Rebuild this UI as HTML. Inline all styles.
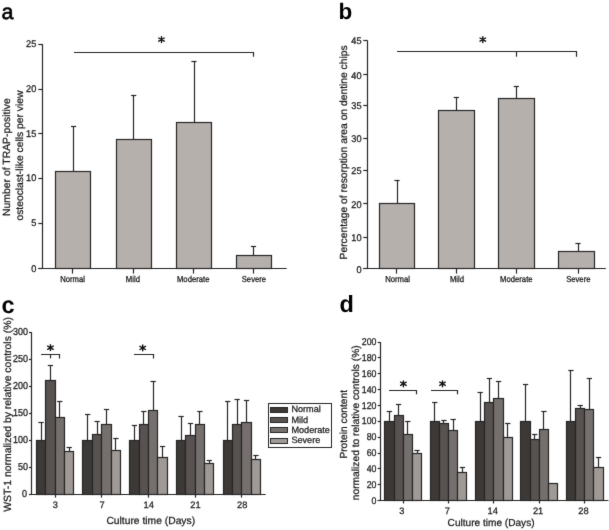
<!DOCTYPE html>
<html><head><meta charset="utf-8"><style>
html,body{margin:0;padding:0;background:#fff;}
svg{display:block;font-family:"Liberation Sans", sans-serif;text-rendering:geometricPrecision;}
</style></head><body>
<svg width="609" height="530" viewBox="0 0 609 530">
<defs><filter id="bl" x="0" y="0" width="100%" height="100%" filterUnits="userSpaceOnUse" color-interpolation-filters="sRGB"><feConvolveMatrix order="3" kernelMatrix="0.015 0.06 0.015 0.06 0.7 0.06 0.015 0.06 0.015" divisor="1" edgeMode="none"/></filter></defs>
<rect width="609" height="530" fill="#ffffff"/>
<g filter="url(#bl)">
<text transform="translate(1.50,18.70)" font-size="21.5" text-anchor="start" font-weight="normal" fill="#000" stroke="#000" stroke-width="0.6" >a</text>
<text transform="translate(338.50,18.70)" font-size="22.5" text-anchor="start" font-weight="bold" fill="#000" >b</text>
<text transform="translate(1.50,312.60)" font-size="23.5" text-anchor="start" font-weight="bold" fill="#000" >c</text>
<text transform="translate(339.50,312.20)" font-size="23.5" text-anchor="start" font-weight="bold" fill="#000" >d</text>
<line x1="42.50" y1="44.10" x2="42.50" y2="268.80" stroke="#262626" stroke-width="1.2"/>
<line x1="38.30" y1="268.50" x2="286.70" y2="268.50" stroke="#262626" stroke-width="1.2"/>
<line x1="38.30" y1="44.50" x2="42.70" y2="44.50" stroke="#262626" stroke-width="1.2"/>
<text transform="translate(36.30,47.00) scale(1,1.05)" font-size="9.2" text-anchor="end" font-weight="normal" fill="#1a1a1a" stroke="#1a1a1a" stroke-width="0.25" >25</text>
<line x1="38.30" y1="89.50" x2="42.70" y2="89.50" stroke="#262626" stroke-width="1.2"/>
<text transform="translate(36.30,92.30) scale(1,1.05)" font-size="9.2" text-anchor="end" font-weight="normal" fill="#1a1a1a" stroke="#1a1a1a" stroke-width="0.25" >20</text>
<line x1="38.30" y1="133.50" x2="42.70" y2="133.50" stroke="#262626" stroke-width="1.2"/>
<text transform="translate(36.30,136.50) scale(1,1.05)" font-size="9.2" text-anchor="end" font-weight="normal" fill="#1a1a1a" stroke="#1a1a1a" stroke-width="0.25" >15</text>
<line x1="38.30" y1="178.50" x2="42.70" y2="178.50" stroke="#262626" stroke-width="1.2"/>
<text transform="translate(36.30,180.90) scale(1,1.05)" font-size="9.2" text-anchor="end" font-weight="normal" fill="#1a1a1a" stroke="#1a1a1a" stroke-width="0.25" >10</text>
<line x1="38.30" y1="223.50" x2="42.70" y2="223.50" stroke="#262626" stroke-width="1.2"/>
<text transform="translate(36.30,226.30) scale(1,1.05)" font-size="9.2" text-anchor="end" font-weight="normal" fill="#1a1a1a" stroke="#1a1a1a" stroke-width="0.25" >5</text>
<line x1="38.30" y1="268.50" x2="42.70" y2="268.50" stroke="#262626" stroke-width="1.2"/>
<text transform="translate(36.30,271.70) scale(1,1.05)" font-size="9.2" text-anchor="end" font-weight="normal" fill="#1a1a1a" stroke="#1a1a1a" stroke-width="0.25" >0</text>
<line x1="73.50" y1="171.20" x2="73.50" y2="126.70" stroke="#262626" stroke-width="1.2"/>
<line x1="71.00" y1="126.50" x2="76.20" y2="126.50" stroke="#262626" stroke-width="1.2"/>
<rect x="55.50" y="171.50" width="35.00" height="97.00" fill="#b6b0ad" stroke="#262626" stroke-width="1.2"/>
<line x1="72.50" y1="268.80" x2="72.50" y2="273.60" stroke="#262626" stroke-width="1.2"/>
<text transform="translate(72.60,282.00) scale(1,1.12)" font-size="7.7" text-anchor="middle" font-weight="normal" fill="#1a1a1a" stroke="#1a1a1a" stroke-width="0.25" >Normal</text>
<line x1="133.50" y1="139.30" x2="133.50" y2="95.00" stroke="#262626" stroke-width="1.2"/>
<line x1="131.10" y1="95.50" x2="136.30" y2="95.50" stroke="#262626" stroke-width="1.2"/>
<rect x="116.50" y="139.50" width="35.00" height="129.00" fill="#b6b0ad" stroke="#262626" stroke-width="1.2"/>
<line x1="133.50" y1="268.80" x2="133.50" y2="273.60" stroke="#262626" stroke-width="1.2"/>
<text transform="translate(132.90,282.00) scale(1,1.12)" font-size="7.7" text-anchor="middle" font-weight="normal" fill="#1a1a1a" stroke="#1a1a1a" stroke-width="0.25" >Mild</text>
<line x1="194.50" y1="122.30" x2="194.50" y2="61.00" stroke="#262626" stroke-width="1.2"/>
<line x1="191.40" y1="61.50" x2="196.60" y2="61.50" stroke="#262626" stroke-width="1.2"/>
<rect x="176.50" y="122.50" width="35.00" height="146.00" fill="#b6b0ad" stroke="#262626" stroke-width="1.2"/>
<line x1="193.50" y1="268.80" x2="193.50" y2="273.60" stroke="#262626" stroke-width="1.2"/>
<text transform="translate(193.20,282.00) scale(1,1.12)" font-size="7.7" text-anchor="middle" font-weight="normal" fill="#1a1a1a" stroke="#1a1a1a" stroke-width="0.25" >Moderate</text>
<line x1="253.50" y1="255.90" x2="253.50" y2="246.40" stroke="#262626" stroke-width="1.2"/>
<line x1="250.90" y1="246.50" x2="256.10" y2="246.50" stroke="#262626" stroke-width="1.2"/>
<rect x="236.50" y="255.50" width="35.00" height="13.00" fill="#b6b0ad" stroke="#262626" stroke-width="1.2"/>
<line x1="253.50" y1="268.80" x2="253.50" y2="273.60" stroke="#262626" stroke-width="1.2"/>
<text transform="translate(253.90,282.00) scale(1,1.12)" font-size="7.7" text-anchor="middle" font-weight="normal" fill="#1a1a1a" stroke="#1a1a1a" stroke-width="0.25" >Severe</text>
<path d="M74.00 52.50 H253.50 V56.70" fill="none" stroke="#262626" stroke-width="1.2"/>
<path d="M161.50 36.72 V42.48 M158.73 38.00 L164.27 41.20 M158.73 41.20 L164.27 38.00" fill="none" stroke="#111" stroke-width="1.4" stroke-linecap="round"/>
<text transform="translate(10.40,157.10) rotate(-90)" font-size="10.4" text-anchor="middle" font-weight="normal" fill="#1a1a1a" stroke="#1a1a1a" stroke-width="0.25" >Number of TRAP-positive</text>
<text transform="translate(22.60,155.60) rotate(-90)" font-size="10.3" text-anchor="middle" font-weight="normal" fill="#1a1a1a" stroke="#1a1a1a" stroke-width="0.25" >osteoclast-like cells per view</text>
<line x1="367.50" y1="40.50" x2="367.50" y2="268.80" stroke="#262626" stroke-width="1.2"/>
<line x1="363.30" y1="268.50" x2="605.80" y2="268.50" stroke="#262626" stroke-width="1.2"/>
<line x1="363.30" y1="40.50" x2="367.60" y2="40.50" stroke="#262626" stroke-width="1.2"/>
<text transform="translate(361.60,44.40) scale(1,1.05)" font-size="9.2" text-anchor="end" font-weight="normal" fill="#1a1a1a" stroke="#1a1a1a" stroke-width="0.25" >45</text>
<line x1="363.30" y1="74.50" x2="367.60" y2="74.50" stroke="#262626" stroke-width="1.2"/>
<text transform="translate(361.60,78.50) scale(1,1.05)" font-size="9.2" text-anchor="end" font-weight="normal" fill="#1a1a1a" stroke="#1a1a1a" stroke-width="0.25" >40</text>
<line x1="363.30" y1="105.50" x2="367.60" y2="105.50" stroke="#262626" stroke-width="1.2"/>
<text transform="translate(361.60,109.30) scale(1,1.05)" font-size="9.2" text-anchor="end" font-weight="normal" fill="#1a1a1a" stroke="#1a1a1a" stroke-width="0.25" >35</text>
<line x1="363.30" y1="138.50" x2="367.60" y2="138.50" stroke="#262626" stroke-width="1.2"/>
<text transform="translate(361.60,142.30) scale(1,1.05)" font-size="9.2" text-anchor="end" font-weight="normal" fill="#1a1a1a" stroke="#1a1a1a" stroke-width="0.25" >30</text>
<line x1="363.30" y1="170.50" x2="367.60" y2="170.50" stroke="#262626" stroke-width="1.2"/>
<text transform="translate(361.60,174.30) scale(1,1.05)" font-size="9.2" text-anchor="end" font-weight="normal" fill="#1a1a1a" stroke="#1a1a1a" stroke-width="0.25" >25</text>
<line x1="363.30" y1="203.50" x2="367.60" y2="203.50" stroke="#262626" stroke-width="1.2"/>
<text transform="translate(361.60,207.60) scale(1,1.05)" font-size="9.2" text-anchor="end" font-weight="normal" fill="#1a1a1a" stroke="#1a1a1a" stroke-width="0.25" >20</text>
<line x1="363.30" y1="237.50" x2="367.60" y2="237.50" stroke="#262626" stroke-width="1.2"/>
<text transform="translate(361.60,241.00) scale(1,1.05)" font-size="9.2" text-anchor="end" font-weight="normal" fill="#1a1a1a" stroke="#1a1a1a" stroke-width="0.25" >10</text>
<line x1="363.30" y1="268.50" x2="367.60" y2="268.50" stroke="#262626" stroke-width="1.2"/>
<text transform="translate(361.60,272.70) scale(1,1.05)" font-size="9.2" text-anchor="end" font-weight="normal" fill="#1a1a1a" stroke="#1a1a1a" stroke-width="0.25" >0</text>
<line x1="397.50" y1="203.30" x2="397.50" y2="180.70" stroke="#262626" stroke-width="1.2"/>
<line x1="394.40" y1="180.50" x2="399.60" y2="180.50" stroke="#262626" stroke-width="1.2"/>
<rect x="379.50" y="203.50" width="35.00" height="65.00" fill="#b6b0ad" stroke="#262626" stroke-width="1.2"/>
<line x1="396.50" y1="268.80" x2="396.50" y2="273.60" stroke="#262626" stroke-width="1.2"/>
<text transform="translate(397.60,282.00) scale(1,1.12)" font-size="7.7" text-anchor="middle" font-weight="normal" fill="#1a1a1a" stroke="#1a1a1a" stroke-width="0.25" >Normal</text>
<line x1="456.50" y1="110.30" x2="456.50" y2="97.70" stroke="#262626" stroke-width="1.2"/>
<line x1="453.70" y1="97.50" x2="458.90" y2="97.50" stroke="#262626" stroke-width="1.2"/>
<rect x="438.50" y="110.50" width="36.00" height="158.00" fill="#b6b0ad" stroke="#262626" stroke-width="1.2"/>
<line x1="456.50" y1="268.80" x2="456.50" y2="273.60" stroke="#262626" stroke-width="1.2"/>
<text transform="translate(457.00,282.00) scale(1,1.12)" font-size="7.7" text-anchor="middle" font-weight="normal" fill="#1a1a1a" stroke="#1a1a1a" stroke-width="0.25" >Mild</text>
<line x1="516.50" y1="98.70" x2="516.50" y2="86.00" stroke="#262626" stroke-width="1.2"/>
<line x1="513.70" y1="86.50" x2="518.90" y2="86.50" stroke="#262626" stroke-width="1.2"/>
<rect x="498.50" y="98.50" width="36.00" height="170.00" fill="#b6b0ad" stroke="#262626" stroke-width="1.2"/>
<line x1="516.50" y1="268.80" x2="516.50" y2="273.60" stroke="#262626" stroke-width="1.2"/>
<text transform="translate(516.30,282.00) scale(1,1.12)" font-size="7.7" text-anchor="middle" font-weight="normal" fill="#1a1a1a" stroke="#1a1a1a" stroke-width="0.25" >Moderate</text>
<line x1="578.50" y1="251.50" x2="578.50" y2="243.60" stroke="#262626" stroke-width="1.2"/>
<line x1="575.40" y1="243.50" x2="580.60" y2="243.50" stroke="#262626" stroke-width="1.2"/>
<rect x="558.50" y="251.50" width="36.00" height="17.00" fill="#b6b0ad" stroke="#262626" stroke-width="1.2"/>
<line x1="578.50" y1="268.80" x2="578.50" y2="273.60" stroke="#262626" stroke-width="1.2"/>
<text transform="translate(578.30,282.00) scale(1,1.12)" font-size="7.7" text-anchor="middle" font-weight="normal" fill="#1a1a1a" stroke="#1a1a1a" stroke-width="0.25" >Severe</text>
<path d="M397.00 51.50 H576.50 V56.70" fill="none" stroke="#262626" stroke-width="1.2"/>
<line x1="516.50" y1="51.50" x2="516.50" y2="56.70" stroke="#262626" stroke-width="1.2"/>
<path d="M482.80 36.72 V42.48 M480.03 38.00 L485.57 41.20 M480.03 41.20 L485.57 38.00" fill="none" stroke="#111" stroke-width="1.4" stroke-linecap="round"/>
<text transform="translate(346.60,152.40) rotate(-90)" font-size="10.3" text-anchor="middle" font-weight="normal" fill="#1a1a1a" stroke="#1a1a1a" stroke-width="0.25" >Percentage of resorption area on dentine chips</text>
<line x1="31.50" y1="332.20" x2="31.50" y2="494.40" stroke="#262626" stroke-width="1.2"/>
<line x1="29.00" y1="494.50" x2="265.70" y2="494.50" stroke="#262626" stroke-width="1.2"/>
<line x1="29.00" y1="494.50" x2="31.60" y2="494.50" stroke="#262626" stroke-width="1.2"/>
<text transform="translate(26.90,497.40) scale(1,1.12)" font-size="9.0" text-anchor="end" font-weight="normal" fill="#1a1a1a" stroke="#1a1a1a" stroke-width="0.25" >0</text>
<line x1="29.00" y1="467.50" x2="31.60" y2="467.50" stroke="#262626" stroke-width="1.2"/>
<text transform="translate(28.10,470.37) scale(1,1.12)" font-size="9.0" text-anchor="end" font-weight="normal" fill="#1a1a1a" stroke="#1a1a1a" stroke-width="0.25" >50</text>
<line x1="29.00" y1="440.50" x2="31.60" y2="440.50" stroke="#262626" stroke-width="1.2"/>
<text transform="translate(28.10,443.33) scale(1,1.12)" font-size="9.0" text-anchor="end" font-weight="normal" fill="#1a1a1a" stroke="#1a1a1a" stroke-width="0.25" >100</text>
<line x1="29.00" y1="413.50" x2="31.60" y2="413.50" stroke="#262626" stroke-width="1.2"/>
<text transform="translate(28.10,416.29) scale(1,1.12)" font-size="9.0" text-anchor="end" font-weight="normal" fill="#1a1a1a" stroke="#1a1a1a" stroke-width="0.25" >150</text>
<line x1="29.00" y1="386.50" x2="31.60" y2="386.50" stroke="#262626" stroke-width="1.2"/>
<text transform="translate(28.10,389.26) scale(1,1.12)" font-size="9.0" text-anchor="end" font-weight="normal" fill="#1a1a1a" stroke="#1a1a1a" stroke-width="0.25" >200</text>
<line x1="29.00" y1="359.50" x2="31.60" y2="359.50" stroke="#262626" stroke-width="1.2"/>
<text transform="translate(28.10,362.23) scale(1,1.12)" font-size="9.0" text-anchor="end" font-weight="normal" fill="#1a1a1a" stroke="#1a1a1a" stroke-width="0.25" >250</text>
<line x1="29.00" y1="332.50" x2="31.60" y2="332.50" stroke="#262626" stroke-width="1.2"/>
<text transform="translate(28.10,335.19) scale(1,1.12)" font-size="9.0" text-anchor="end" font-weight="normal" fill="#1a1a1a" stroke="#1a1a1a" stroke-width="0.25" >300</text>
<line x1="41.50" y1="440.30" x2="41.50" y2="422.70" stroke="#262626" stroke-width="1.2"/>
<line x1="38.35" y1="422.50" x2="43.65" y2="422.50" stroke="#262626" stroke-width="1.2"/>
<line x1="50.50" y1="380.50" x2="50.50" y2="365.20" stroke="#262626" stroke-width="1.2"/>
<line x1="47.75" y1="365.50" x2="53.05" y2="365.50" stroke="#262626" stroke-width="1.2"/>
<line x1="59.50" y1="417.30" x2="59.50" y2="401.90" stroke="#262626" stroke-width="1.2"/>
<line x1="57.15" y1="401.50" x2="62.45" y2="401.50" stroke="#262626" stroke-width="1.2"/>
<line x1="69.50" y1="451.40" x2="69.50" y2="447.60" stroke="#262626" stroke-width="1.2"/>
<line x1="66.55" y1="447.50" x2="71.85" y2="447.50" stroke="#262626" stroke-width="1.2"/>
<rect x="36.50" y="440.50" width="9.00" height="54.00" fill="#3c3937" stroke="#262626" stroke-width="1.2"/>
<rect x="45.50" y="380.50" width="10.00" height="114.00" fill="#585351" stroke="#262626" stroke-width="1.2"/>
<rect x="55.50" y="417.50" width="9.00" height="77.00" fill="#75706e" stroke="#262626" stroke-width="1.2"/>
<rect x="64.50" y="451.50" width="9.00" height="43.00" fill="#a09a96" stroke="#262626" stroke-width="1.2"/>
<line x1="55.50" y1="494.40" x2="55.50" y2="497.60" stroke="#262626" stroke-width="1.2"/>
<text transform="translate(55.40,508.00)" font-size="9.3" text-anchor="middle" font-weight="normal" fill="#1a1a1a" stroke="#1a1a1a" stroke-width="0.25" >3</text>
<line x1="87.50" y1="440.30" x2="87.50" y2="414.70" stroke="#262626" stroke-width="1.2"/>
<line x1="85.04" y1="414.50" x2="90.34" y2="414.50" stroke="#262626" stroke-width="1.2"/>
<line x1="97.50" y1="434.20" x2="97.50" y2="421.20" stroke="#262626" stroke-width="1.2"/>
<line x1="94.44" y1="421.50" x2="99.74" y2="421.50" stroke="#262626" stroke-width="1.2"/>
<line x1="106.50" y1="424.00" x2="106.50" y2="409.60" stroke="#262626" stroke-width="1.2"/>
<line x1="103.84" y1="409.50" x2="109.14" y2="409.50" stroke="#262626" stroke-width="1.2"/>
<line x1="115.50" y1="450.00" x2="115.50" y2="438.80" stroke="#262626" stroke-width="1.2"/>
<line x1="113.24" y1="438.50" x2="118.54" y2="438.50" stroke="#262626" stroke-width="1.2"/>
<rect x="82.50" y="440.50" width="10.00" height="54.00" fill="#3c3937" stroke="#262626" stroke-width="1.2"/>
<rect x="92.50" y="434.50" width="9.00" height="60.00" fill="#585351" stroke="#262626" stroke-width="1.2"/>
<rect x="101.50" y="424.50" width="10.00" height="70.00" fill="#75706e" stroke="#262626" stroke-width="1.2"/>
<rect x="111.50" y="450.50" width="9.00" height="44.00" fill="#a09a96" stroke="#262626" stroke-width="1.2"/>
<line x1="101.50" y1="494.40" x2="101.50" y2="497.60" stroke="#262626" stroke-width="1.2"/>
<text transform="translate(102.09,508.00)" font-size="9.3" text-anchor="middle" font-weight="normal" fill="#1a1a1a" stroke="#1a1a1a" stroke-width="0.25" >7</text>
<line x1="134.50" y1="440.30" x2="134.50" y2="425.70" stroke="#262626" stroke-width="1.2"/>
<line x1="131.73" y1="425.50" x2="137.03" y2="425.50" stroke="#262626" stroke-width="1.2"/>
<line x1="143.50" y1="424.30" x2="143.50" y2="411.30" stroke="#262626" stroke-width="1.2"/>
<line x1="141.13" y1="411.50" x2="146.43" y2="411.50" stroke="#262626" stroke-width="1.2"/>
<line x1="153.50" y1="410.70" x2="153.50" y2="381.50" stroke="#262626" stroke-width="1.2"/>
<line x1="150.53" y1="381.50" x2="155.83" y2="381.50" stroke="#262626" stroke-width="1.2"/>
<line x1="162.50" y1="457.20" x2="162.50" y2="446.10" stroke="#262626" stroke-width="1.2"/>
<line x1="159.93" y1="446.50" x2="165.23" y2="446.50" stroke="#262626" stroke-width="1.2"/>
<rect x="129.50" y="440.50" width="10.00" height="54.00" fill="#3c3937" stroke="#262626" stroke-width="1.2"/>
<rect x="139.50" y="424.50" width="9.00" height="70.00" fill="#585351" stroke="#262626" stroke-width="1.2"/>
<rect x="148.50" y="410.50" width="9.00" height="84.00" fill="#75706e" stroke="#262626" stroke-width="1.2"/>
<rect x="157.50" y="457.50" width="10.00" height="37.00" fill="#a09a96" stroke="#262626" stroke-width="1.2"/>
<line x1="148.50" y1="494.40" x2="148.50" y2="497.60" stroke="#262626" stroke-width="1.2"/>
<text transform="translate(148.78,508.00)" font-size="9.3" text-anchor="middle" font-weight="normal" fill="#1a1a1a" stroke="#1a1a1a" stroke-width="0.25" >14</text>
<line x1="181.50" y1="440.30" x2="181.50" y2="416.10" stroke="#262626" stroke-width="1.2"/>
<line x1="178.42" y1="416.50" x2="183.72" y2="416.50" stroke="#262626" stroke-width="1.2"/>
<line x1="190.50" y1="435.10" x2="190.50" y2="423.20" stroke="#262626" stroke-width="1.2"/>
<line x1="187.82" y1="423.50" x2="193.12" y2="423.50" stroke="#262626" stroke-width="1.2"/>
<line x1="199.50" y1="424.30" x2="199.50" y2="411.00" stroke="#262626" stroke-width="1.2"/>
<line x1="197.22" y1="411.50" x2="202.52" y2="411.50" stroke="#262626" stroke-width="1.2"/>
<line x1="209.50" y1="463.10" x2="209.50" y2="460.80" stroke="#262626" stroke-width="1.2"/>
<line x1="206.62" y1="460.50" x2="211.92" y2="460.50" stroke="#262626" stroke-width="1.2"/>
<rect x="176.50" y="440.50" width="9.00" height="54.00" fill="#3c3937" stroke="#262626" stroke-width="1.2"/>
<rect x="185.50" y="435.50" width="10.00" height="59.00" fill="#585351" stroke="#262626" stroke-width="1.2"/>
<rect x="195.50" y="424.50" width="9.00" height="70.00" fill="#75706e" stroke="#262626" stroke-width="1.2"/>
<rect x="204.50" y="463.50" width="9.00" height="31.00" fill="#a09a96" stroke="#262626" stroke-width="1.2"/>
<line x1="195.50" y1="494.40" x2="195.50" y2="497.60" stroke="#262626" stroke-width="1.2"/>
<text transform="translate(195.47,508.00)" font-size="9.3" text-anchor="middle" font-weight="normal" fill="#1a1a1a" stroke="#1a1a1a" stroke-width="0.25" >21</text>
<line x1="227.50" y1="440.30" x2="227.50" y2="401.90" stroke="#262626" stroke-width="1.2"/>
<line x1="225.11" y1="401.50" x2="230.41" y2="401.50" stroke="#262626" stroke-width="1.2"/>
<line x1="237.50" y1="424.00" x2="237.50" y2="399.70" stroke="#262626" stroke-width="1.2"/>
<line x1="234.51" y1="399.50" x2="239.81" y2="399.50" stroke="#262626" stroke-width="1.2"/>
<line x1="246.50" y1="422.30" x2="246.50" y2="400.00" stroke="#262626" stroke-width="1.2"/>
<line x1="243.91" y1="400.50" x2="249.21" y2="400.50" stroke="#262626" stroke-width="1.2"/>
<line x1="255.50" y1="459.20" x2="255.50" y2="455.20" stroke="#262626" stroke-width="1.2"/>
<line x1="253.31" y1="455.50" x2="258.61" y2="455.50" stroke="#262626" stroke-width="1.2"/>
<rect x="223.50" y="440.50" width="9.00" height="54.00" fill="#3c3937" stroke="#262626" stroke-width="1.2"/>
<rect x="232.50" y="424.50" width="9.00" height="70.00" fill="#585351" stroke="#262626" stroke-width="1.2"/>
<rect x="241.50" y="422.50" width="10.00" height="72.00" fill="#75706e" stroke="#262626" stroke-width="1.2"/>
<rect x="251.50" y="459.50" width="9.00" height="35.00" fill="#a09a96" stroke="#262626" stroke-width="1.2"/>
<line x1="241.50" y1="494.40" x2="241.50" y2="497.60" stroke="#262626" stroke-width="1.2"/>
<text transform="translate(242.16,508.00)" font-size="9.3" text-anchor="middle" font-weight="normal" fill="#1a1a1a" stroke="#1a1a1a" stroke-width="0.25" >28</text>
<text transform="translate(106.40,523.60)" font-size="10.3" text-anchor="start" font-weight="normal" fill="#1a1a1a" stroke="#1a1a1a" stroke-width="0.25" >Culture time (Days)</text>
<text transform="translate(10.60,414.40) rotate(-90)" font-size="10.45" text-anchor="middle" font-weight="normal" fill="#1a1a1a" stroke="#1a1a1a" stroke-width="0.25" >WST-1 normalized by relative controls (%)</text>
<path d="M41.00 354.50 H59.50 V358.40" fill="none" stroke="#262626" stroke-width="1.2"/>
<line x1="50.50" y1="354.50" x2="50.50" y2="358.40" stroke="#262626" stroke-width="1.2"/>
<path d="M50.45 344.82 V350.58 M47.68 346.10 L53.22 349.30 M47.68 349.30 L53.22 346.10" fill="none" stroke="#111" stroke-width="1.4" stroke-linecap="round"/>
<path d="M134.00 354.50 H153.50 V358.40" fill="none" stroke="#262626" stroke-width="1.2"/>
<path d="M142.70 345.02 V350.78 M139.93 346.30 L145.47 349.50 M139.93 349.50 L145.47 346.30" fill="none" stroke="#111" stroke-width="1.4" stroke-linecap="round"/>
<rect x="268.50" y="403.50" width="63.00" height="44.00" fill="#ffffff" stroke="#262626" stroke-width="1.0"/>
<rect x="270.50" y="407.50" width="17.00" height="5.00" fill="#3c3937" stroke="#262626" stroke-width="1.0"/>
<text transform="translate(291.40,412.20)" font-size="9.15" text-anchor="start" font-weight="normal" fill="#1a1a1a" stroke="#1a1a1a" stroke-width="0.25" >Normal</text>
<rect x="270.50" y="417.50" width="17.00" height="5.00" fill="#585351" stroke="#262626" stroke-width="1.0"/>
<text transform="translate(291.40,422.57)" font-size="9.15" text-anchor="start" font-weight="normal" fill="#1a1a1a" stroke="#1a1a1a" stroke-width="0.25" >Mild</text>
<rect x="270.50" y="427.50" width="17.00" height="5.00" fill="#75706e" stroke="#262626" stroke-width="1.0"/>
<text transform="translate(291.40,432.94)" font-size="9.15" text-anchor="start" font-weight="normal" fill="#1a1a1a" stroke="#1a1a1a" stroke-width="0.25" >Moderate</text>
<rect x="270.50" y="438.50" width="17.00" height="5.00" fill="#a09a96" stroke="#262626" stroke-width="1.0"/>
<text transform="translate(291.40,443.31)" font-size="9.15" text-anchor="start" font-weight="normal" fill="#1a1a1a" stroke="#1a1a1a" stroke-width="0.25" >Severe</text>
<line x1="380.50" y1="342.10" x2="380.50" y2="500.60" stroke="#262626" stroke-width="1.2"/>
<line x1="377.70" y1="500.50" x2="608.50" y2="500.50" stroke="#262626" stroke-width="1.2"/>
<line x1="377.70" y1="500.50" x2="380.50" y2="500.50" stroke="#262626" stroke-width="1.2"/>
<text transform="translate(376.50,503.60) scale(1,1.12)" font-size="8.8" text-anchor="end" font-weight="normal" fill="#1a1a1a" stroke="#1a1a1a" stroke-width="0.25" >0</text>
<line x1="377.70" y1="484.50" x2="380.50" y2="484.50" stroke="#262626" stroke-width="1.2"/>
<text transform="translate(376.50,487.75) scale(1,1.12)" font-size="8.8" text-anchor="end" font-weight="normal" fill="#1a1a1a" stroke="#1a1a1a" stroke-width="0.25" >20</text>
<line x1="377.70" y1="468.50" x2="380.50" y2="468.50" stroke="#262626" stroke-width="1.2"/>
<text transform="translate(376.50,471.90) scale(1,1.12)" font-size="8.8" text-anchor="end" font-weight="normal" fill="#1a1a1a" stroke="#1a1a1a" stroke-width="0.25" >40</text>
<line x1="377.70" y1="453.50" x2="380.50" y2="453.50" stroke="#262626" stroke-width="1.2"/>
<text transform="translate(376.50,456.05) scale(1,1.12)" font-size="8.8" text-anchor="end" font-weight="normal" fill="#1a1a1a" stroke="#1a1a1a" stroke-width="0.25" >60</text>
<line x1="377.70" y1="437.50" x2="380.50" y2="437.50" stroke="#262626" stroke-width="1.2"/>
<text transform="translate(376.50,440.20) scale(1,1.12)" font-size="8.8" text-anchor="end" font-weight="normal" fill="#1a1a1a" stroke="#1a1a1a" stroke-width="0.25" >80</text>
<line x1="377.70" y1="421.50" x2="380.50" y2="421.50" stroke="#262626" stroke-width="1.2"/>
<text transform="translate(376.50,424.35) scale(1,1.12)" font-size="8.8" text-anchor="end" font-weight="normal" fill="#1a1a1a" stroke="#1a1a1a" stroke-width="0.25" >100</text>
<line x1="377.70" y1="405.50" x2="380.50" y2="405.50" stroke="#262626" stroke-width="1.2"/>
<text transform="translate(376.50,408.50) scale(1,1.12)" font-size="8.8" text-anchor="end" font-weight="normal" fill="#1a1a1a" stroke="#1a1a1a" stroke-width="0.25" >120</text>
<line x1="377.70" y1="389.50" x2="380.50" y2="389.50" stroke="#262626" stroke-width="1.2"/>
<text transform="translate(376.50,392.65) scale(1,1.12)" font-size="8.8" text-anchor="end" font-weight="normal" fill="#1a1a1a" stroke="#1a1a1a" stroke-width="0.25" >140</text>
<line x1="377.70" y1="373.50" x2="380.50" y2="373.50" stroke="#262626" stroke-width="1.2"/>
<text transform="translate(376.50,376.80) scale(1,1.12)" font-size="8.8" text-anchor="end" font-weight="normal" fill="#1a1a1a" stroke="#1a1a1a" stroke-width="0.25" >160</text>
<line x1="377.70" y1="357.50" x2="380.50" y2="357.50" stroke="#262626" stroke-width="1.2"/>
<text transform="translate(376.50,360.95) scale(1,1.12)" font-size="8.8" text-anchor="end" font-weight="normal" fill="#1a1a1a" stroke="#1a1a1a" stroke-width="0.25" >180</text>
<line x1="377.70" y1="342.50" x2="380.50" y2="342.50" stroke="#262626" stroke-width="1.2"/>
<text transform="translate(376.50,345.10) scale(1,1.12)" font-size="8.8" text-anchor="end" font-weight="normal" fill="#1a1a1a" stroke="#1a1a1a" stroke-width="0.25" >200</text>
<line x1="389.50" y1="421.30" x2="389.50" y2="411.50" stroke="#262626" stroke-width="1.2"/>
<line x1="386.75" y1="411.50" x2="392.05" y2="411.50" stroke="#262626" stroke-width="1.2"/>
<line x1="398.50" y1="415.20" x2="398.50" y2="404.40" stroke="#262626" stroke-width="1.2"/>
<line x1="395.95" y1="404.50" x2="401.25" y2="404.50" stroke="#262626" stroke-width="1.2"/>
<line x1="407.50" y1="434.30" x2="407.50" y2="421.10" stroke="#262626" stroke-width="1.2"/>
<line x1="405.15" y1="421.50" x2="410.45" y2="421.50" stroke="#262626" stroke-width="1.2"/>
<line x1="417.50" y1="453.50" x2="417.50" y2="450.30" stroke="#262626" stroke-width="1.2"/>
<line x1="414.35" y1="450.50" x2="419.65" y2="450.50" stroke="#262626" stroke-width="1.2"/>
<rect x="384.50" y="421.50" width="10.00" height="79.00" fill="#3c3937" stroke="#262626" stroke-width="1.2"/>
<rect x="394.50" y="415.50" width="9.00" height="85.00" fill="#585351" stroke="#262626" stroke-width="1.2"/>
<rect x="403.50" y="434.50" width="9.00" height="66.00" fill="#75706e" stroke="#262626" stroke-width="1.2"/>
<rect x="412.50" y="453.50" width="9.00" height="47.00" fill="#a09a96" stroke="#262626" stroke-width="1.2"/>
<line x1="403.50" y1="500.60" x2="403.50" y2="503.50" stroke="#262626" stroke-width="1.2"/>
<text transform="translate(401.90,513.80)" font-size="9.3" text-anchor="middle" font-weight="normal" fill="#1a1a1a" stroke="#1a1a1a" stroke-width="0.25" >3</text>
<line x1="434.50" y1="421.30" x2="434.50" y2="402.00" stroke="#262626" stroke-width="1.2"/>
<line x1="432.14" y1="402.50" x2="437.44" y2="402.50" stroke="#262626" stroke-width="1.2"/>
<line x1="443.50" y1="423.80" x2="443.50" y2="420.10" stroke="#262626" stroke-width="1.2"/>
<line x1="441.34" y1="420.50" x2="446.64" y2="420.50" stroke="#262626" stroke-width="1.2"/>
<line x1="453.50" y1="430.20" x2="453.50" y2="419.60" stroke="#262626" stroke-width="1.2"/>
<line x1="450.54" y1="419.50" x2="455.84" y2="419.50" stroke="#262626" stroke-width="1.2"/>
<line x1="462.50" y1="472.80" x2="462.50" y2="467.50" stroke="#262626" stroke-width="1.2"/>
<line x1="459.74" y1="467.50" x2="465.04" y2="467.50" stroke="#262626" stroke-width="1.2"/>
<rect x="430.50" y="421.50" width="9.00" height="79.00" fill="#3c3937" stroke="#262626" stroke-width="1.2"/>
<rect x="439.50" y="423.50" width="9.00" height="77.00" fill="#585351" stroke="#262626" stroke-width="1.2"/>
<rect x="448.50" y="430.50" width="9.00" height="70.00" fill="#75706e" stroke="#262626" stroke-width="1.2"/>
<rect x="457.50" y="472.50" width="9.00" height="28.00" fill="#a09a96" stroke="#262626" stroke-width="1.2"/>
<line x1="448.50" y1="500.60" x2="448.50" y2="503.50" stroke="#262626" stroke-width="1.2"/>
<text transform="translate(447.29,513.80)" font-size="9.3" text-anchor="middle" font-weight="normal" fill="#1a1a1a" stroke="#1a1a1a" stroke-width="0.25" >7</text>
<line x1="480.50" y1="421.30" x2="480.50" y2="392.40" stroke="#262626" stroke-width="1.2"/>
<line x1="477.53" y1="392.50" x2="482.83" y2="392.50" stroke="#262626" stroke-width="1.2"/>
<line x1="489.50" y1="402.00" x2="489.50" y2="378.00" stroke="#262626" stroke-width="1.2"/>
<line x1="486.73" y1="378.50" x2="492.03" y2="378.50" stroke="#262626" stroke-width="1.2"/>
<line x1="498.50" y1="398.20" x2="498.50" y2="381.20" stroke="#262626" stroke-width="1.2"/>
<line x1="495.93" y1="381.50" x2="501.23" y2="381.50" stroke="#262626" stroke-width="1.2"/>
<line x1="507.50" y1="437.00" x2="507.50" y2="423.90" stroke="#262626" stroke-width="1.2"/>
<line x1="505.13" y1="423.50" x2="510.43" y2="423.50" stroke="#262626" stroke-width="1.2"/>
<rect x="475.50" y="421.50" width="9.00" height="79.00" fill="#3c3937" stroke="#262626" stroke-width="1.2"/>
<rect x="484.50" y="402.50" width="9.00" height="98.00" fill="#585351" stroke="#262626" stroke-width="1.2"/>
<rect x="493.50" y="398.50" width="10.00" height="102.00" fill="#75706e" stroke="#262626" stroke-width="1.2"/>
<rect x="503.50" y="437.50" width="9.00" height="63.00" fill="#a09a96" stroke="#262626" stroke-width="1.2"/>
<line x1="493.50" y1="500.60" x2="493.50" y2="503.50" stroke="#262626" stroke-width="1.2"/>
<text transform="translate(492.68,513.80)" font-size="9.3" text-anchor="middle" font-weight="normal" fill="#1a1a1a" stroke="#1a1a1a" stroke-width="0.25" >14</text>
<line x1="525.50" y1="421.30" x2="525.50" y2="384.70" stroke="#262626" stroke-width="1.2"/>
<line x1="522.92" y1="384.50" x2="528.22" y2="384.50" stroke="#262626" stroke-width="1.2"/>
<line x1="534.50" y1="439.30" x2="534.50" y2="434.50" stroke="#262626" stroke-width="1.2"/>
<line x1="532.12" y1="434.50" x2="537.42" y2="434.50" stroke="#262626" stroke-width="1.2"/>
<line x1="543.50" y1="429.00" x2="543.50" y2="411.40" stroke="#262626" stroke-width="1.2"/>
<line x1="541.32" y1="411.50" x2="546.62" y2="411.50" stroke="#262626" stroke-width="1.2"/>
<rect x="520.50" y="421.50" width="10.00" height="79.00" fill="#3c3937" stroke="#262626" stroke-width="1.2"/>
<rect x="530.50" y="439.50" width="9.00" height="61.00" fill="#585351" stroke="#262626" stroke-width="1.2"/>
<rect x="539.50" y="429.50" width="9.00" height="71.00" fill="#75706e" stroke="#262626" stroke-width="1.2"/>
<rect x="548.50" y="483.50" width="9.00" height="17.00" fill="#a09a96" stroke="#262626" stroke-width="1.2"/>
<line x1="539.50" y1="500.60" x2="539.50" y2="503.50" stroke="#262626" stroke-width="1.2"/>
<text transform="translate(538.07,513.80)" font-size="9.3" text-anchor="middle" font-weight="normal" fill="#1a1a1a" stroke="#1a1a1a" stroke-width="0.25" >21</text>
<line x1="570.50" y1="421.30" x2="570.50" y2="370.30" stroke="#262626" stroke-width="1.2"/>
<line x1="568.31" y1="370.50" x2="573.61" y2="370.50" stroke="#262626" stroke-width="1.2"/>
<line x1="580.50" y1="408.80" x2="580.50" y2="405.60" stroke="#262626" stroke-width="1.2"/>
<line x1="577.51" y1="405.50" x2="582.81" y2="405.50" stroke="#262626" stroke-width="1.2"/>
<line x1="589.50" y1="409.10" x2="589.50" y2="378.30" stroke="#262626" stroke-width="1.2"/>
<line x1="586.71" y1="378.50" x2="592.01" y2="378.50" stroke="#262626" stroke-width="1.2"/>
<line x1="598.50" y1="467.20" x2="598.50" y2="457.60" stroke="#262626" stroke-width="1.2"/>
<line x1="595.91" y1="457.50" x2="601.21" y2="457.50" stroke="#262626" stroke-width="1.2"/>
<rect x="566.50" y="421.50" width="9.00" height="79.00" fill="#3c3937" stroke="#262626" stroke-width="1.2"/>
<rect x="575.50" y="408.50" width="9.00" height="92.00" fill="#585351" stroke="#262626" stroke-width="1.2"/>
<rect x="584.50" y="409.50" width="9.00" height="91.00" fill="#75706e" stroke="#262626" stroke-width="1.2"/>
<rect x="593.50" y="467.50" width="10.00" height="33.00" fill="#a09a96" stroke="#262626" stroke-width="1.2"/>
<line x1="584.50" y1="500.60" x2="584.50" y2="503.50" stroke="#262626" stroke-width="1.2"/>
<text transform="translate(583.46,513.80)" font-size="9.3" text-anchor="middle" font-weight="normal" fill="#1a1a1a" stroke="#1a1a1a" stroke-width="0.25" >28</text>
<text transform="translate(447.60,526.30)" font-size="10.1" text-anchor="start" font-weight="normal" fill="#1a1a1a" stroke="#1a1a1a" stroke-width="0.25" >Culture time (Days)</text>
<text transform="translate(347.00,424.30) rotate(-90)" font-size="10.2" text-anchor="middle" font-weight="normal" fill="#1a1a1a" stroke="#1a1a1a" stroke-width="0.25" >Protein content</text>
<text transform="translate(358.90,422.80) rotate(-90)" font-size="10.25" text-anchor="middle" font-weight="normal" fill="#1a1a1a" stroke="#1a1a1a" stroke-width="0.25" >normalized to relative controls (%)</text>
<path d="M389.00 390.50 H416.50 V394.30" fill="none" stroke="#262626" stroke-width="1.2"/>
<path d="M403.40 380.92 V386.68 M400.63 382.20 L406.17 385.40 M400.63 385.40 L406.17 382.20" fill="none" stroke="#111" stroke-width="1.4" stroke-linecap="round"/>
<path d="M431.00 390.50 H457.50 V394.30" fill="none" stroke="#262626" stroke-width="1.2"/>
<path d="M442.50 380.92 V386.68 M439.73 382.20 L445.27 385.40 M439.73 385.40 L445.27 382.20" fill="none" stroke="#111" stroke-width="1.4" stroke-linecap="round"/>
</g>
</svg>
</body></html>
